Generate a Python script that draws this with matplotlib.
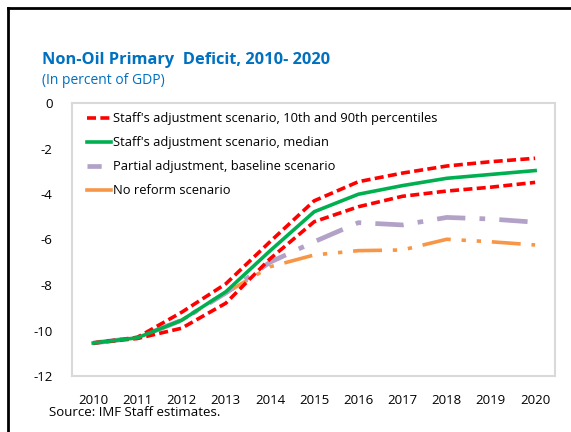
import matplotlib.pyplot as plt
from matplotlib.lines import Line2D

# data
years = ['2010', '2011', '2012', '2013', '2014', '2015', '2016', '2017', '2018', '2019', '2020']
p90 = [-10.55, -10.30, -9.20, -7.95, -6.10, -4.30, -3.46, -3.08, -2.77, -2.58, -2.43]
median = [-10.55, -10.32, -9.55, -8.30, -6.50, -4.78, -4.01, -3.63, -3.31, -3.14, -2.97]
p10 = [-10.55, -10.35, -9.90, -8.80, -6.85, -5.22, -4.56, -4.10, -3.87, -3.70, -3.49]
partial = [-10.55, -10.32, -9.55, -8.35, -7.00, -6.10, -5.26, -5.36, -5.03, -5.10, -5.24]
no_reform = [-10.55, -10.32, -9.55, -8.35, -7.20, -6.68, -6.49, -6.46, -5.99, -6.10, -6.24]

yticks = [0, -2, -4, -6, -8, -10, -12]

RED = '#FF0000'
GREEN = '#00B050'
PURPLE = '#B3A2C7'
ORANGE = '#F79646'
BLUE = '#0070C0'

plt.rcParams['font.family'] = ['Open Sans', 'DejaVu Sans']

fig = plt.figure(figsize=(5.71, 4.32), dpi=100)
ax = fig.add_axes([72 / 571, 1 - 376 / 432, 483 / 571, 273 / 432])

x = list(range(len(years)))
ax.plot(x, no_reform, color=ORANGE, lw=2.6, dashes=(8, 3, 1.2, 3, 1.2, 3))
ax.plot(x, partial, color=PURPLE, lw=3.4, dashes=(6, 3, 1.2, 3))
ax.plot(x, p10, color=RED, lw=2.6, dashes=(2.5, 1.2))
ax.plot(x, p90, color=RED, lw=2.6, dashes=(2.5, 1.2))
ax.plot(x, median, color=GREEN, lw=2.6)

ax.set_xlim(-0.48, 10.45)
ax.set_ylim(-12, 0)
ax.set_xticks(x)
ax.set_xticklabels(years)
ax.set_yticks(yticks)
ax.set_yticklabels([str(v) for v in yticks])
ax.tick_params(length=0, labelsize=9.5, colors='#000000')
ax.tick_params(axis='x', pad=13)
ax.tick_params(axis='y', pad=14)
for s in ax.spines.values():
    s.set_color('#D9D9D9')
    s.set_linewidth(1.5)

handles = [
    Line2D([], [], color=RED, lw=2.6, dashes=(2.5, 1.2)),
    Line2D([], [], color=GREEN, lw=2.6),
    Line2D([], [], color=PURPLE, lw=3.4, dashes=(3, 10)),
    Line2D([], [], color=ORANGE, lw=2.6),
]
labels = ["Staff's adjustment scenario, 10th and 90th percentiles",
          "Staff's adjustment scenario, median",
          "Partial adjustment, baseline scenario",
          "No reform scenario"]
ax.legend(handles, labels, loc='upper left', bbox_to_anchor=(0.02, 0.985),
          frameon=False, fontsize=9.3, handlelength=1.9, handletextpad=0.1,
          labelspacing=0.85, borderaxespad=0)

fig.text(42 / 571, 1 - 60 / 432, 'Non-Oil Primary  Deficit, 2010- 2020', color=BLUE,
         fontsize=11.8, fontweight='bold', va='center', ha='left')
fig.text(42 / 571, 1 - 80 / 432, '(In percent of GDP)', color=BLUE,
         fontsize=10, va='center', ha='left')
fig.text(49 / 571, 1 - 413 / 432, 'Source: IMF Staff estimates.', color='#000000',
         fontsize=9.5, va='center', ha='left')

# black frame at left and top edges of the picture
fig.add_artist(Line2D([8 / 571, 8 / 571], [0, 1 - 8 / 432], color='black', lw=2,
                      transform=fig.transFigure))
fig.add_artist(Line2D([8 / 571, 1], [1 - 8 / 432, 1 - 8 / 432], color='black', lw=2,
                      transform=fig.transFigure))

fig.savefig('out.png', dpi=100)
